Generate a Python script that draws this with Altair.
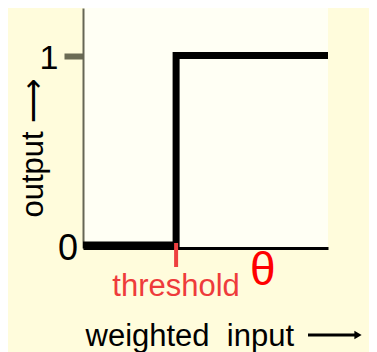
import altair as alt
import pandas as pd

# Data
step_x = [0, 38, 38, 100]
step_y = [0, 0, 1, 1]
step_order = [0, 1, 2, 3]
threshold_x = [38]
y_tick_values = [1]
zero_value = [0]
zero_text = ["0"]

FONT = "Liberation Sans"

line_df = pd.DataFrame({"input": step_x, "output": step_y, "order": step_order})
thr_df = pd.DataFrame({"input": threshold_x})
zero_df = pd.DataFrame({"output": zero_value, "label": zero_text})

xs = alt.Scale(domain=[0, 100], nice=False, zero=False)
ys = alt.Scale(domain=[-0.016, 1.251], nice=False, zero=False)

x_axis = alt.Axis(
    values=[], labels=False, ticks=False, grid=False,
    domain=True, domainColor="black", domainWidth=3,
    title="weighted\u00a0 input", titleFont=FONT, titleFontSize=31,
    titleFontWeight="normal", titleColor="black",
    titleX=2, titleY=97, titleAlign="left", titleBaseline="alphabetic",
)
y_axis = alt.Axis(
    values=y_tick_values, grid=False, format="d",
    domain=True, domainColor="#666655", domainWidth=2,
    ticks=True, tickColor="#6b6b55", tickWidth=6, tickSize=19,
    labelFont=FONT, labelFontSize=34, labelColor="black", labelPadding=6,
    labelOffset=3,
    title="output \u27f6", titleFont=FONT, titleFontSize=31,
    titleFontWeight="normal", titleColor="black", titleAngle=270,
    titleX=-41, titleY=209, titleAlign="left", titleBaseline="alphabetic",
)

step = alt.Chart(line_df).mark_line(
    color="black", strokeWidth=7, strokeJoin="miter", strokeCap="butt"
).encode(
    x=alt.X("input:Q", scale=xs, axis=x_axis),
    y=alt.Y("output:Q", scale=ys, axis=y_axis),
    order="order:Q",
)

zero_lbl = alt.Chart(zero_df).mark_text(
    font=FONT, fontSize=36, color="black", align="right", baseline="middle", dy=4
).encode(
    x=alt.value(-5),
    y=alt.Y("output:Q", scale=ys),
    text="label:N",
)

thr_tick = alt.Chart(thr_df).mark_rule(color="#ee4040", strokeWidth=4).encode(
    x=alt.X("input:Q", scale=xs),
    y=alt.value(235),
    y2=alt.value(259),
)

thr_text = alt.Chart(thr_df).mark_text(
    text="threshold", font=FONT, fontSize=31, color="#ee3b3b",
    align="center", baseline="alphabetic"
).encode(
    x=alt.X("input:Q", scale=xs),
    y=alt.value(288),
)

theta = alt.Chart(thr_df).mark_text(
    text="\u03b8", font=FONT, fontSize=46, color="#ff0000",
    align="left", baseline="alphabetic", dx=74
).encode(
    x=alt.X("input:Q", scale=xs),
    y=alt.value(277),
)

# x-title arrow (annotation)
arrow_line = alt.Chart(thr_df).mark_rule(color="black", strokeWidth=3).encode(
    x=alt.value(225), x2=alt.value(272), y=alt.value(327),
)
arrow_head = alt.Chart(thr_df).mark_point(
    shape="triangle-right", filled=True, color="black", size=70, opacity=1
).encode(
    x=alt.value(275), y=alt.value(327),
)

chart = alt.layer(step, zero_lbl, thr_tick, thr_text, theta, arrow_line, arrow_head).properties(
    width=245, height=240,
    autosize=alt.AutoSizeParams(type="none"),
    padding={"left": 75, "top": 0, "right": 41, "bottom": 104},
    background="#fffcdc",
).configure_view(fill="#fffff4", stroke=None)

chart.save("out.html", embed_options={"renderer": "svg", "actions": False})
